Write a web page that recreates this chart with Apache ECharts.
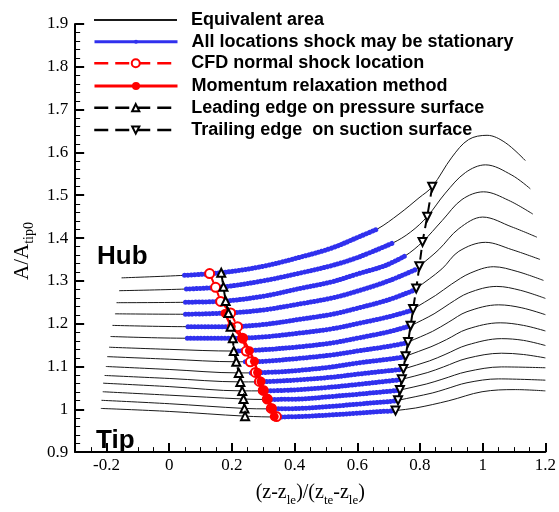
<!DOCTYPE html>
<html>
<head>
<meta charset="utf-8">
<script src="https://cdn.jsdelivr.net/npm/echarts@6/dist/echarts.min.js"></script>
<style>
  html, body { margin: 0; padding: 0; background: #fff; }
  #chart { width: 559px; height: 512px; }
</style>
</head>
<body>
<div id="chart"></div>
<script>
// equivalent area curves, hub (top) to tip (bottom), [x, A/Atip0]
var area01 = [[-0.152,1.307],[0.049,1.313],[0.166,1.319],[0.300,1.334],[0.416,1.355],[0.520,1.377],[0.606,1.403],[0.664,1.421],[0.733,1.456],[0.797,1.494],[0.839,1.520],[0.902,1.589],[0.955,1.630],[1.014,1.640],[1.072,1.623],[1.136,1.581]];
var area02 = [[-0.160,1.277],[0.055,1.281],[0.173,1.286],[0.300,1.300],[0.416,1.318],[0.520,1.336],[0.606,1.356],[0.712,1.388],[0.770,1.414],[0.823,1.450],[0.881,1.505],[0.945,1.553],[1.009,1.571],[1.093,1.547],[1.152,1.515]];
var area03 = [[-0.168,1.249],[0.052,1.250],[0.180,1.253],[0.300,1.264],[0.416,1.282],[0.520,1.298],[0.600,1.316],[0.690,1.336],[0.752,1.358],[0.808,1.391],[0.871,1.441],[0.934,1.490],[1.003,1.508],[1.083,1.488],[1.160,1.456]];
var area04 = [[-0.173,1.223],[0.052,1.222],[0.189,1.225],[0.300,1.232],[0.416,1.246],[0.520,1.260],[0.600,1.276],[0.700,1.300],[0.788,1.327],[0.798,1.334],[0.860,1.373],[0.924,1.422],[1.000,1.449],[1.093,1.426],[1.173,1.402]];
var area05 = [[-0.181,1.196],[0.060,1.193],[0.196,1.193],[0.300,1.198],[0.416,1.210],[0.520,1.222],[0.600,1.236],[0.700,1.256],[0.781,1.278],[0.788,1.282],[0.870,1.328],[0.924,1.369],[1.009,1.390],[1.093,1.373],[1.183,1.350]];
var area06 = [[-0.187,1.170],[0.058,1.166],[0.203,1.166],[0.300,1.169],[0.416,1.178],[0.520,1.188],[0.600,1.200],[0.700,1.216],[0.773,1.231],[0.778,1.234],[0.850,1.266],[0.900,1.292],[0.960,1.318],[1.035,1.333],[1.110,1.322],[1.194,1.301]];
var area07 = [[-0.192,1.145],[0.000,1.140],[0.210,1.136],[0.300,1.139],[0.416,1.146],[0.520,1.155],[0.600,1.166],[0.700,1.181],[0.765,1.194],[0.770,1.195],[0.845,1.223],[0.895,1.247],[0.955,1.272],[1.045,1.287],[1.120,1.278],[1.200,1.259]];
var area08 = [[-0.198,1.123],[0.000,1.117],[0.214,1.111],[0.243,1.111],[0.300,1.112],[0.416,1.119],[0.520,1.127],[0.600,1.136],[0.700,1.147],[0.757,1.155],[0.762,1.157],[0.840,1.182],[0.890,1.203],[0.950,1.228],[1.051,1.244],[1.125,1.237],[1.200,1.221]];
var area09 = [[-0.202,1.100],[0.000,1.093],[0.222,1.085],[0.262,1.085],[0.340,1.087],[0.416,1.091],[0.520,1.099],[0.600,1.108],[0.700,1.117],[0.751,1.122],[0.754,1.124],[0.835,1.146],[0.885,1.163],[0.950,1.187],[1.056,1.202],[1.130,1.196],[1.200,1.183]];
var area10 = [[-0.206,1.079],[0.000,1.072],[0.227,1.064],[0.278,1.064],[0.350,1.066],[0.416,1.069],[0.520,1.075],[0.600,1.082],[0.700,1.090],[0.743,1.093],[0.747,1.094],[0.830,1.113],[0.880,1.128],[0.950,1.150],[1.060,1.165],[1.130,1.161],[1.200,1.149]];
var area11 = [[-0.211,1.061],[0.000,1.053],[0.233,1.043],[0.291,1.043],[0.360,1.044],[0.416,1.046],[0.520,1.052],[0.600,1.058],[0.700,1.066],[0.737,1.069],[0.742,1.070],[0.825,1.086],[0.875,1.099],[0.950,1.119],[1.060,1.131],[1.130,1.128],[1.200,1.120]];
var area12 = [[-0.212,1.041],[0.000,1.033],[0.237,1.024],[0.304,1.023],[0.416,1.024],[0.520,1.030],[0.600,1.035],[0.700,1.042],[0.731,1.044],[0.736,1.045],[0.820,1.059],[0.870,1.070],[0.950,1.088],[1.060,1.099],[1.200,1.097]];
var area13 = [[-0.216,1.021],[0.000,1.013],[0.240,1.002],[0.316,1.001],[0.416,1.002],[0.520,1.007],[0.600,1.012],[0.700,1.018],[0.725,1.020],[0.730,1.021],[0.839,1.038],[0.881,1.047],[0.950,1.062],[1.050,1.071],[1.200,1.068]];
var area14 = [[-0.218,1.002],[0.000,0.995],[0.242,0.984],[0.348,0.982],[0.416,0.983],[0.520,0.987],[0.600,0.991],[0.680,0.995],[0.720,0.996],[0.722,0.997],[0.786,1.003],[0.892,1.020],[0.998,1.041],[1.104,1.046],[1.200,1.043]];
var areaCurves = [area01, area02, area03, area04, area05, area06, area07, area08, area09, area10, area11, area12, area13, area14];

// range on each curve where the shock may be stationary
var blueStart = [0.049, 0.055, 0.052, 0.052, 0.060, 0.058, 0.210, 0.243, 0.262, 0.278, 0.291, 0.304, 0.316, 0.348];
var blueEnd   = [0.664, 0.712, 0.752, 0.788, 0.781, 0.773, 0.765, 0.757, 0.751, 0.743, 0.737, 0.731, 0.725, 0.720];

var cfdX = [0.129, 0.148, 0.164, 0.196, 0.218, 0.234, 0.246, 0.259, 0.275, 0.288, 0.300, 0.313, 0.326, 0.342];
var cfdY = [1.317, 1.285, 1.252, 1.225, 1.193, 1.166, 1.136, 1.111, 1.086, 1.065, 1.044, 1.024, 1.002, 0.983];
var momX = [0.178, 0.198, 0.235, 0.256, 0.272, 0.282, 0.293, 0.300, 0.314, 0.328, 0.335];
var momY = [1.224, 1.193, 1.166, 1.137, 1.112, 1.086, 1.065, 1.044, 1.024, 1.002, 0.983];
var leadX = [0.166, 0.173, 0.180, 0.189, 0.196, 0.203, 0.206, 0.214, 0.222, 0.227, 0.233, 0.237, 0.240, 0.242];
var leadY = [1.319, 1.286, 1.253, 1.225, 1.193, 1.166, 1.136, 1.111, 1.085, 1.064, 1.043, 1.024, 1.002, 0.984];
var trailX = [0.839, 0.823, 0.808, 0.798, 0.788, 0.778, 0.770, 0.762, 0.754, 0.747, 0.742, 0.736, 0.730, 0.722];
var trailY = [1.520, 1.450, 1.391, 1.334, 1.282, 1.234, 1.195, 1.157, 1.124, 1.094, 1.070, 1.045, 1.021, 0.997];

var xTicks = [-0.2, 0, 0.2, 0.4, 0.6, 0.8, 1, 1.2];

var names = ['Equivalent area', 'All locations shock may be stationary', 'CFD normal shock location',
             'Momentum relaxation method', 'Leading edge on pressure surface', 'Trailing edge  on suction surface'];

function zip(xs, ys) {
    var out = [];
    for (var i = 0; i < xs.length; i++) out.push([xs[i], ys[i]]);
    return out;
}

var chart = echarts.init(document.getElementById('chart'));

var serif = '"Liberation Serif", "Times New Roman", serif';
var sans = '"Liberation Sans", Arial, sans-serif';
var blue = '#3030ee';

var series = [];
areaCurves.forEach(function (row) {
    series.push({
        name: names[0], type: 'line', data: row, smooth: 0.35,
        symbol: 'none', clip: false, silent: true, z: 1,
        lineStyle: { color: '#1a1a1a', width: 1 },
        itemStyle: { color: '#1a1a1a' }
    });
});
areaCurves.forEach(function (row, i) {
    series.push({
        name: names[1], type: 'line', smooth: 0.35, z: 2,
        data: row.filter(function (p) { return p[0] >= blueStart[i] - 1e-9 && p[0] <= blueEnd[i] + 1e-9; }),
        symbol: 'circle', symbolSize: 4, showSymbol: false, silent: true,
        lineStyle: { color: blue, width: 5, type: [0.01, 3.4], cap: 'round' },
        itemStyle: { color: blue }
    });
});
series.push({
    name: names[2], type: 'line', data: zip(cfdX, cfdY), z: 3,
    symbol: 'emptyCircle', symbolSize: 9,
    lineStyle: { color: '#ff0000', width: 2, type: [10, 5] },
    itemStyle: { color: '#ff0000', borderWidth: 1.5 }
});
series.push({
    name: names[3], type: 'line', data: zip(momX, momY), z: 4,
    symbol: 'circle', symbolSize: 9,
    lineStyle: { color: '#ff0000', width: 2.5 },
    itemStyle: { color: '#ff0000' }
});
series.push({
    name: names[4], type: 'line', data: zip(leadX, leadY), z: 5,
    symbol: 'emptyTriangle', symbolSize: 8,
    lineStyle: { color: '#000', width: 2, type: [10, 6] },
    itemStyle: { color: '#000', borderWidth: 1.5 }
});
series.push({
    name: names[5], type: 'line', data: zip(trailX, trailY), z: 5,
    symbol: 'emptyTriangle', symbolSize: 8, symbolRotate: 180,
    lineStyle: { color: '#000', width: 2, type: [10, 6] },
    itemStyle: { color: '#000', borderWidth: 1.5 }
});

var legendRows = [20, 41.7, 63.3, 86, 107.7, 130];
var legendIcon = [10, 5, 10, 10, 9, 9];
var legendData = [
    { name: names[0], itemStyle: { opacity: 0 } },
    { name: names[1], lineStyle: { type: 'solid', width: 3, cap: 'butt' } },
    { name: names[2], lineStyle: { type: [14, 7], width: 2.5 } },
    { name: names[3], lineStyle: { width: 3 } },
    { name: names[4], lineStyle: { type: [14, 7], width: 2.5 } },
    { name: names[5], lineStyle: { type: [14, 7], width: 2.5 } }
];
var legends = legendData.map(function (d, i) {
    return {
        data: [d], orient: 'vertical', left: 93, top: legendRows[i] - 11,
        padding: 0, itemWidth: 83, itemHeight: legendIcon[i], selectedMode: false,
        textStyle: { fontFamily: sans, fontWeight: 'bold', fontSize: 18, color: '#000', lineHeight: 22, padding: [0, 0, 0, 9] }
    };
});

var xNameStyle = {
    fontFamily: serif, fontSize: 20, color: '#000', lineHeight: 28,
    rich: { s: { fontFamily: serif, fontSize: 13, color: '#000', verticalAlign: 'bottom', lineHeight: 13 } }
};
var yNameStyle = {
    fontFamily: serif, fontSize: 21, color: '#000', lineHeight: 28, padding: [0, 26, 0, 0],
    rich: { s: { fontFamily: serif, fontSize: 14, color: '#000', verticalAlign: 'bottom', lineHeight: 14 } }
};

var option = {
    animation: false,
    backgroundColor: '#fff',
    grid: { left: 75, right: 12, top: 24, bottom: 48 },
    legend: legends,
    xAxis: [{
        type: 'value', min: -0.3, max: 1.2,
        name: '(z-z{s|le})/(z{s|te}-z{s|le})', nameLocation: 'middle', nameGap: 20,
        nameTextStyle: xNameStyle,
        axisLine: { show: true, onZero: false, lineStyle: { color: '#000', width: 2 } },
        axisTick: { show: true, inside: true, length: 9, customValues: xTicks, lineStyle: { color: '#000', width: 2 } },
        axisLabel: { customValues: xTicks, fontFamily: serif, fontSize: 17, color: '#000', margin: 5 },
        splitLine: { show: false }
    }, {
        type: 'value', min: -0.3, max: 1.2, interval: 0.05, position: 'bottom',
        axisLine: { show: false, onZero: false },
        axisTick: { show: true, inside: true, length: 5, lineStyle: { color: '#000', width: 1 } },
        axisLabel: { show: false },
        splitLine: { show: false }
    }],
    yAxis: {
        type: 'value', min: 0.9, max: 1.9, interval: 0.1,
        name: 'A/A{s|tip0}', nameLocation: 'middle', nameGap: 28, nameRotate: 90,
        nameTextStyle: yNameStyle,
        axisLine: { show: true, onZero: false, lineStyle: { color: '#000', width: 2 } },
        axisTick: { show: true, inside: true, length: 9, lineStyle: { color: '#000', width: 2 } },
        minorTick: { show: true, splitNumber: 5, length: 5, lineStyle: { color: '#000', width: 1 } },
        axisLabel: { fontFamily: serif, fontSize: 17, color: '#000', margin: 7 },
        splitLine: { show: false }
    },
    graphic: [
        { type: 'text', x: 97, y: 257, style: { text: 'Hub', font: 'bold 26px ' + sans, fill: '#000', verticalAlign: 'middle' } },
        { type: 'text', x: 96, y: 441, style: { text: 'Tip', font: 'bold 26px ' + sans, fill: '#000', verticalAlign: 'middle' } }
    ],
    series: series
};

chart.setOption(option);
window.addEventListener('resize', function () {
    chart.resize();
});
</script>
</body>
</html>
